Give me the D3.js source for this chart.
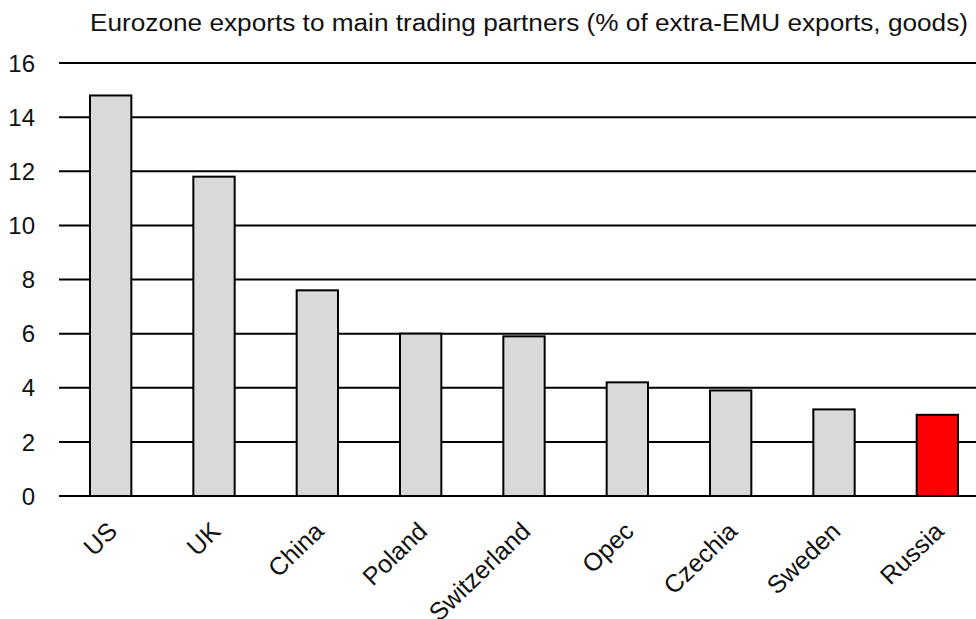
<!DOCTYPE html>
<html>
<head>
<meta charset="utf-8">
<script src="https://cdn.jsdelivr.net/npm/d3@7"></script>
<style>
  body { margin: 0; background: #fff; overflow: hidden; }
  text { font-family: "Liberation Sans", Arial, sans-serif; fill: #111; }
</style>
</head>
<body>
<div id="chart"></div>
<script>
// data
const countries = ["US", "UK", "China", "Poland", "Switzerland", "Opec", "Czechia", "Sweden", "Russia"];
const shares = [14.8, 11.8, 7.6, 6.0, 5.9, 4.2, 3.9, 3.2, 3.0];
const yTicks = [0, 2, 4, 6, 8, 10, 12, 14, 16];
const highlight = "Russia";

const W = 976, H = 619;
const margin = {top: 63, right: -13, bottom: 123, left: 59};
const width = W - margin.left - margin.right;
const height = H - margin.top - margin.bottom;

const svg = d3.select("#chart")
  .append("svg")
  .attr("width", W)
  .attr("height", H);

svg.append("text")
  .attr("x", 90)
  .attr("y", 31)
  .attr("textLength", 878)
  .attr("lengthAdjust", "spacingAndGlyphs")
  .style("font-size", "23px")
  .text("Eurozone exports to main trading partners (% of extra-EMU exports, goods)");

const chart = svg.append("g")
  .attr("transform", `translate(${margin.left},${margin.top})`);

const x = d3.scaleBand()
  .domain(countries)
  .range([0, width])
  .paddingInner(0.6)
  .paddingOuter(0.3);

const y = d3.scaleLinear()
  .domain([0, 16])
  .range([height, 0]);

// grid lines
chart.selectAll(".grid")
  .data(yTicks)
  .enter()
  .append("line")
  .attr("class", "grid")
  .attr("x1", 0)
  .attr("x2", W - margin.left)
  .attr("y1", d => y(d))
  .attr("y2", d => y(d))
  .style("stroke", "#000")
  .style("stroke-width", 2);

// y labels
chart.selectAll(".ylab")
  .data(yTicks)
  .enter()
  .append("text")
  .attr("class", "ylab")
  .attr("x", -24)
  .attr("y", d => y(d))
  .attr("dy", "0.36em")
  .attr("text-anchor", "end")
  .style("font-size", "24px")
  .text(d => d);

// bars
chart.selectAll(".bar")
  .data(countries)
  .enter()
  .append("rect")
  .attr("class", "bar")
  .attr("x", d => x(d))
  .attr("width", x.bandwidth())
  .attr("y", (d, i) => y(shares[i]))
  .attr("height", (d, i) => height - y(shares[i]))
  .style("fill", d => d === highlight ? "#ff0000" : "#d9d9d9")
  .style("stroke", "#000")
  .style("stroke-width", 2);

// rotated category labels
chart.selectAll(".xlab")
  .data(countries)
  .enter()
  .append("text")
  .attr("class", "xlab")
  .attr("text-anchor", "end")
  .style("font-size", "25px")
  .attr("transform", d => `translate(${x(d) + x.bandwidth() / 2 + 8},${height + 37}) rotate(-44)`)
  .text(d => d);
</script>
</body>
</html>
